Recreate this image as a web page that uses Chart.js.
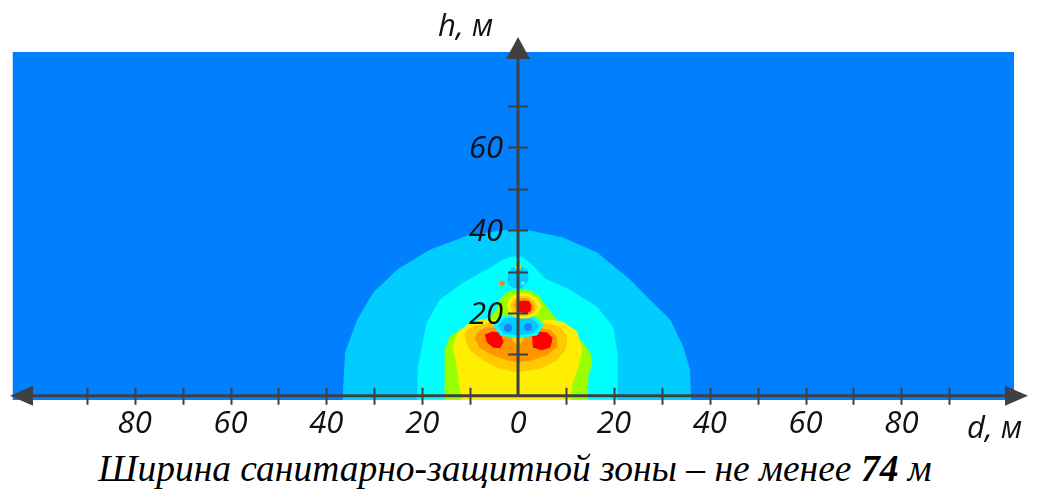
<!DOCTYPE html>
<html>
<head>
<meta charset="utf-8">
<script src="https://cdn.jsdelivr.net/npm/chart.js@4/dist/chart.umd.min.js"></script>
<style>
  body { margin: 0; background: #fff; }
  #wrap { position: relative; width: 1037px; height: 493px; }
  #caption {
    position: absolute; left: 0; top: 447px; width: 1030px; line-height: 44px;
    text-align: center; color: #000;
    font: italic 37.5px "Liberation Serif", "Times New Roman", serif;
  }
</style>
</head>
<body>
<div id="wrap">
  <canvas id="zone" width="1037" height="445"></canvas>
  <div id="caption">Ширина санитарно-защитной зоны – не менее <b>74</b> м</div>
</div>
<script>
// field extents, metres
const xRange = [-105.5, 103.5];
const yRange = [-1, 83];

// axis ticks and labels
const xTicks = [-90, -80, -70, -60, -50, -40, -30, -20, -10, 10, 20, 30, 40, 50, 60, 70, 80, 90];
const xLabelValues = [-80, -60, -40, -20, 0, 20, 40, 60, 80];
const xLabels = ['80', '60', '40', '20', '0', '20', '40', '60', '80'];
const yTicks = [10, 20, 30, 40, 50, 60, 70];
const yLabelValues = [20, 40, 60];
const yLabels = ['20', '40', '60'];

// contour polygons [d, h]
const field = [[-105.5, -1], [103.5, -1], [103.5, 83], [-105.5, 83]];
const outerZone = [[-36.5, -1], [-36.0, 10.4], [-33.5, 18.3], [-30.2, 24.8], [-25.2, 30.4], [-18.3, 35.2],
  [-10.0, 38.8], [-1.7, 40.0], [2.5, 39.8], [9.4, 38.1], [16.5, 34.5], [23.3, 28.0], [27.5, 23.1],
  [31.7, 18.3], [34.4, 11.8], [35.8, 6.3], [36.0, -1]];
const cyanZone = [[-21.0, -1], [-20.8, 7.0], [-19.0, 17.6], [-16.3, 23.1], [-11.5, 27.2], [-6.5, 30.4],
  [-3.1, 32.8], [-1.3, 33.5], [0.8, 33.5], [2.9, 31.6], [5.6, 28.2], [10.8, 25.5], [16.5, 21.4],
  [19.8, 16.6], [20.6, 10.4], [20.6, -1]];
const topPatch = [[-2.1, 29.2], [-1.3, 30.8], [0.4, 31.3], [1.9, 30.4], [2.1, 28.0], [0.8, 26.0], [-1.3, 26.3], [-2.3, 27.5]];
const greenZone = [[-15.2, -1], [-15.2, 11.1], [-14.2, 14.2], [-12.1, 15.9], [-9.4, 17.1], [-5.8, 18.8],
  [-4.2, 21.2], [-3.8, 23.1], [-2.5, 24.8], [-0.2, 25.5], [2.5, 25.3], [4.2, 24.3], [5.6, 21.9],
  [8.1, 18.3], [10.8, 15.2], [13.5, 12.8], [15.0, 10.4], [15.4, 8.0], [14.6, 4.6], [14.4, -1]];
const yellowZone = [[-11.7, -1], [-12.7, 7.0], [-13.5, 11.8], [-12.5, 15.2], [-10.6, 17.1], [-7.9, 18.3],
  [-4.8, 18.3], [-2.7, 17.1], [-1.0, 15.7], [0, 15.2], [2.5, 16.4], [6.0, 18.3], [9.4, 17.8],
  [12.3, 15.4], [13.3, 11.1], [12.5, 7.0], [11.3, 3.1], [10.8, -1]];
const goldZone = [[-11.0, 14.0], [-10.0, 11.1], [-7.3, 8.7], [-3.8, 6.7], [0, 5.8], [4.6, 6.7], [8.1, 8.7],
  [9.8, 11.1], [10.2, 14.2], [8.8, 16.6], [5.2, 17.6], [2.9, 16.6], [1.0, 14.2], [0, 13.5],
  [-1.0, 14.2], [-2.7, 17.1], [-5.8, 17.6], [-9.4, 16.6], [-11.0, 15.4]];
const orangeZone = [[-9.0, 14.0], [-7.9, 11.6], [-5.2, 9.9], [-2.3, 8.7], [0, 8.2], [2.9, 8.7], [6.0, 9.9],
  [8.1, 11.8], [8.1, 14.2], [6.7, 15.9], [4.0, 16.4], [2.1, 15.2], [0.8, 12.8], [0, 11.8],
  [-1.0, 13.0], [-2.1, 15.2], [-4.2, 16.4], [-6.9, 16.4], [-8.5, 15.2]];
const redLeft = [[-6.9, 14.7], [-5.4, 15.4], [-3.8, 15.2], [-3.1, 13.0], [-3.8, 11.6], [-5.2, 11.8], [-6.5, 13.0]];
const redRight = [[2.9, 14.7], [4.2, 15.4], [6.0, 15.2], [7.1, 14.0], [6.7, 11.8], [5.0, 11.1], [3.1, 11.8]];
const coolOval = [[-5.2, 17.1], [-3.8, 19.0], [0, 19.5], [3.5, 19.0], [5.2, 17.1], [4.0, 14.7], [0, 14.0], [-3.8, 14.7]];
const coolInner = [[-4.2, 16.9], [-2.7, 18.6], [0, 18.8], [2.9, 18.6], [4.4, 16.9], [3.1, 15.2], [0, 14.7], [-3.1, 15.2]];
const upperYellow = [[-2.3, 21.7], [-1.7, 23.6], [-0.2, 24.6], [1.9, 24.6], [3.8, 23.6], [4.8, 21.7],
  [4.0, 19.8], [2.1, 18.8], [0, 18.8], [-1.7, 19.8]];
const upperGold = [[-1.5, 21.7], [-1.0, 23.1], [0.2, 23.9], [2.1, 23.9], [3.3, 22.9], [4.0, 21.4],
  [3.1, 20.0], [1.5, 19.3], [-0.2, 19.5], [-1.3, 20.5]];
const upperOrange = [[-0.8, 21.7], [-0.4, 22.9], [0.6, 23.4], [2.1, 23.4], [2.9, 22.4], [3.3, 21.2],
  [2.5, 20.0], [1.2, 19.8], [-0.2, 20.2]];
const upperRed = [[-0.2, 21.9], [0.2, 22.7], [1.2, 22.9], [2.3, 22.7], [2.7, 21.7], [2.5, 20.5], [1.5, 20.0], [0.2, 20.5]];

// small spots
const blueDots = [[-2.1, 16.4], [2.1, 16.6]];
const yellowDots = [[0, 31.1]];
const orangeDots = [[-3.3, 27.2]];
const paleDots = [[1.0, 27.2]];

const layers = [
  [field, '#0080ff'],
  [outerZone, '#00ccff'],
  [cyanZone, '#00ffff'],
  [topPatch, '#00ccff'],
  [greenZone, '#99ff00'],
  [yellowZone, '#ffee00'],
  [goldZone, '#ffc800'],
  [orangeZone, '#ff9600'],
  [redLeft, '#ff0000'],
  [redRight, '#ff0000'],
  [coolOval, '#00ffff'],
  [coolInner, '#00ccff'],
  [upperYellow, '#ffee00'],
  [upperGold, '#ffc800'],
  [upperOrange, '#ff9600'],
  [upperRed, '#ff0000']
];
const spots = [
  [blueDots, '#1a80ff', 4],
  [yellowDots, '#f0e000', 3],
  [orangeDots, '#ff8000', 2.5],
  [paleDots, '#66e0ff', 2]
];

const toPts = arr => arr.map(p => ({ x: p[0], y: p[1] }));

const datasets = layers.map((l, i) => ({
  data: toPts(l[0]),
  showLine: true,
  fill: 'shape',
  backgroundColor: l[1],
  borderColor: l[1],
  borderWidth: 1,
  pointRadius: 0,
  order: 100 - i
})).concat(spots.map((s, i) => ({
  data: toPts(s[0]),
  showLine: false,
  pointRadius: s[2],
  pointBackgroundColor: s[1],
  pointBorderWidth: 0,
  order: 10 - i
})));

const tickFont = 'italic 31px "Open Sans", "DejaVu Sans", sans-serif';
const axisColor = '#404040';

const axesPlugin = {
  id: 'centerAxes',
  afterDatasetsDraw(chart) {
    const ctx = chart.ctx;
    const xs = chart.scales.x, ys = chart.scales.y;
    const area = chart.chartArea;
    const x0 = xs.getPixelForValue(0), y0 = ys.getPixelForValue(0);
    ctx.save();
    ctx.strokeStyle = axisColor;
    ctx.fillStyle = axisColor;
    ctx.lineWidth = 3;
    // horizontal axis, arrows both ends
    const xl = area.left - 2.5, xr = area.right + 14;
    ctx.beginPath();
    ctx.moveTo(xl + 10, y0); ctx.lineTo(xr - 10, y0);
    ctx.stroke();
    ctx.beginPath();
    ctx.moveTo(xl, y0); ctx.lineTo(xl + 23, y0 - 10); ctx.lineTo(xl + 23, y0 + 10); ctx.closePath();
    ctx.fill();
    ctx.beginPath();
    ctx.moveTo(xr, y0); ctx.lineTo(xr - 23, y0 - 10); ctx.lineTo(xr - 23, y0 + 10); ctx.closePath();
    ctx.fill();
    // vertical axis
    const yt = area.top - 15;
    ctx.beginPath();
    ctx.moveTo(x0, y0); ctx.lineTo(x0, yt + 10);
    ctx.stroke();
    ctx.beginPath();
    ctx.moveTo(x0, yt); ctx.lineTo(x0 - 12, yt + 22); ctx.lineTo(x0 + 12, yt + 22); ctx.closePath();
    ctx.fill();
    // tick marks
    ctx.lineWidth = 2;
    ctx.beginPath();
    xTicks.forEach(v => {
      const px = Math.round(xs.getPixelForValue(v)) + 0.5;
      ctx.moveTo(px, y0 - 8); ctx.lineTo(px, y0 + 9);
    });
    yTicks.forEach(v => {
      const py = Math.round(ys.getPixelForValue(v)) + 0.5;
      ctx.moveTo(x0 - 10, py); ctx.lineTo(x0 + 10, py);
    });
    ctx.stroke();
    // labels
    ctx.fillStyle = '#111';
    ctx.font = tickFont;
    ctx.textAlign = 'center';
    ctx.textBaseline = 'alphabetic';
    xLabelValues.forEach((v, i) => {
      ctx.fillText(xLabels[i], xs.getPixelForValue(v), y0 + 37);
    });
    ctx.textAlign = 'right';
    yLabelValues.forEach((v, i) => {
      ctx.fillText(yLabels[i], x0 - 15, ys.getPixelForValue(v) + 11);
    });
    ctx.textAlign = 'left';
    ctx.fillText('h, м', x0 - 80, area.top - 16);
    ctx.fillText('d, м', area.right - 47, y0 + 42);
    ctx.restore();
  }
};

new Chart(document.getElementById('zone'), {
  type: 'scatter',
  data: { datasets: datasets },
  options: {
    responsive: false,
    animation: false,
    layout: { padding: { left: 12.5, right: 23, top: 52, bottom: 45 } },
    elements: { line: { tension: 0 } },
    plugins: { legend: { display: false }, tooltip: { enabled: false } },
    scales: {
      x: { type: 'linear', min: xRange[0], max: xRange[1], display: false },
      y: { type: 'linear', min: yRange[0], max: yRange[1], display: false }
    }
  },
  plugins: [axesPlugin]
});
</script>
</body>
</html>
